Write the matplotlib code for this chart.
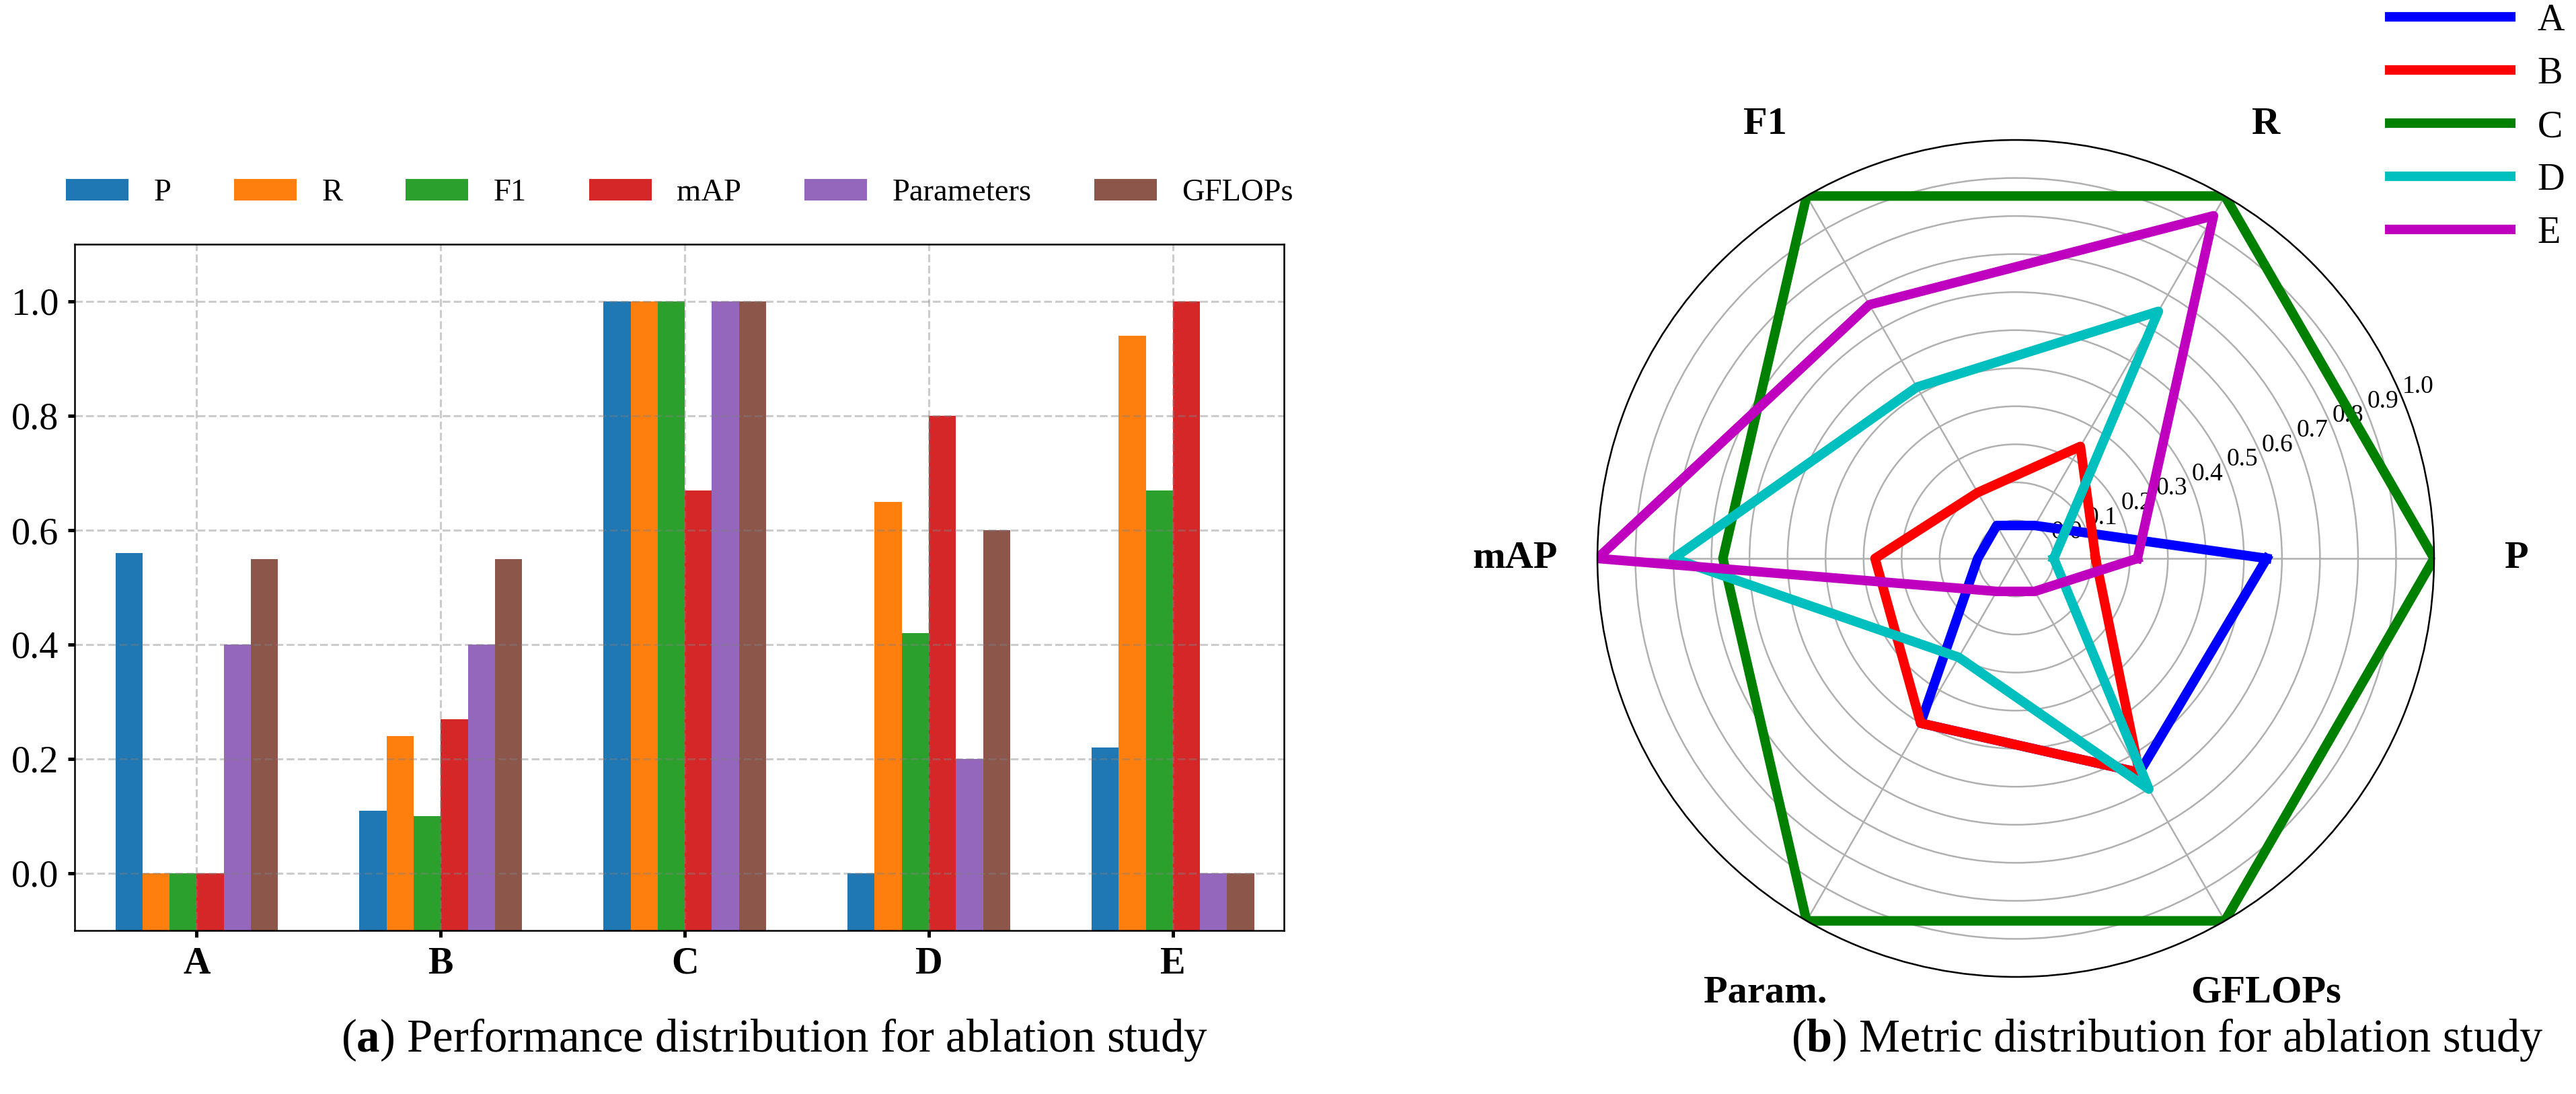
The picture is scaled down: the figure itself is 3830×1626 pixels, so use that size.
import numpy as np
import matplotlib
matplotlib.use("Agg")
import matplotlib.pyplot as plt

plt.rcParams['font.family'] = ['Liberation Serif', 'DejaVu Serif']
plt.rcParams['mathtext.fontset'] = 'custom'
plt.rcParams['mathtext.rm'] = 'Liberation Serif'
plt.rcParams['mathtext.bf'] = 'Liberation Serif:bold'

# ---------------- data ----------------
models = ['A', 'B', 'C', 'D', 'E']
metrics = ['P', 'R', 'F1', 'mAP', 'Parameters', 'GFLOPs']
radar_labels = ['P', 'R', 'F1', 'mAP', 'Param.', 'GFLOPs']

P_vals = [0.56, 0.11, 1.00, 0.00, 0.22]
R_vals = [0.00, 0.24, 1.00, 0.65, 0.94]
F1_vals = [0.00, 0.10, 1.00, 0.42, 0.67]
mAP_vals = [0.00, 0.27, 0.67, 0.80, 1.00]
Param_vals = [0.40, 0.40, 1.00, 0.20, 0.00]
GFLOPs_vals = [0.55, 0.55, 1.00, 0.60, 0.00]

bar_colors = ['#1f77b4', '#ff7f0e', '#2ca02c', '#d62728', '#9467bd', '#8c564b']
radar_colors = ['b', 'r', 'g', 'c', 'm']

y_ticks = [0.0, 0.2, 0.4, 0.6, 0.8, 1.0]
r_ticks = [0.0, 0.1, 0.2, 0.3, 0.4, 0.5, 0.6, 0.7, 0.8, 0.9, 1.0]

series = [P_vals, R_vals, F1_vals, mAP_vals, Param_vals, GFLOPs_vals]

W, H = 3830, 1626
fig = plt.figure(figsize=(W / 300, H / 300), dpi=300)

# ---------------- (a) grouped bars ----------------
ax1 = fig.add_axes([111 / W, 1 - 1383 / H, (1909 - 111) / W, (1383 - 363) / H])
x = np.arange(len(models))
bw = 0.111
base = -0.1
handles = []
for i, (name, vals) in enumerate(zip(metrics, series)):
    v = np.array(vals)
    b = ax1.bar(x + (i - 2.5) * bw, v - base, bw, bottom=base,
                color=bar_colors[i], label=name, zorder=1)
    handles.append(b)
ax1.set_xlim(-0.5, 4.455)
ax1.set_ylim(-0.1, 1.1)
ax1.set_xticks(x)
ax1.set_xticklabels(models, fontsize=13.5, fontweight='bold')
ax1.set_yticks(y_ticks)
ax1.set_yticklabels([f'{t:.1f}' for t in y_ticks], fontsize=13.5)
ax1.grid(True, ls='--', color='gray', alpha=0.4, lw=0.75, zorder=2)
for s in ax1.spines.values():
    s.set_linewidth(0.6)
ax1.tick_params(length=2.5, width=1.2, pad=3.2)

fig.legend(handles=handles, labels=metrics, loc='center left',
           bbox_to_anchor=(79 / W, 1 - 287 / H), ncol=6, fontsize=11.2,
           frameon=False, borderaxespad=0, columnspacing=2.0,
           handletextpad=0.8, handlelength=2.0)

# ---------------- (b) radar ----------------
cx, cy, rad = 2997, 830, 622
ax2 = fig.add_axes([(cx - rad) / W, 1 - (cy + rad) / H, 2 * rad / W, 2 * rad / H],
                   projection='polar')
angles = np.deg2rad(np.arange(0, 360, 60))
ang_closed = np.concatenate([angles, angles[:1]])
lines = []
for m, name in enumerate(models):
    vals = np.array([s[m] for s in series])
    vals_c = np.concatenate([vals, vals[:1]])
    ln, = ax2.plot(ang_closed, vals_c, color=radar_colors[m], lw=3.4, label=name)
    lines.append(ln)
ax2.set_ylim(-0.1, 1.0)
ax2.set_rticks(r_ticks)
ax2.set_yticklabels([f'{t:.1f}' for t in r_ticks], fontsize=9)
ax2.set_rlabel_position(22.5)
ax2.set_xticks(angles)
ax2.set_xticklabels(radar_labels, fontsize=14, fontweight='bold')
ax2.tick_params(axis='x', pad=19)
ax2.grid(True, color='#b0b0b0', lw=0.6)
ax2.spines['polar'].set_linewidth(0.6)

# radar legend: fit row spacing (79 px), first row centre (31 px from top),
# text right edge (3813 px)
fs_leg = 13.5
ls = 0.5
anchor = [3835 / W, 1 + 20 / H]
leg = None
for _ in range(3):
    if leg is not None:
        leg.remove()
    leg = fig.legend(handles=lines, labels=models, loc='upper right',
                     bbox_to_anchor=tuple(anchor), fontsize=fs_leg, frameon=False,
                     borderaxespad=0, handlelength=3.2, handletextpad=0.7,
                     labelspacing=ls)
    fig.canvas.draw()
    ext = [t.get_window_extent() for t in leg.get_texts()]
    cys = [(e.y0 + e.y1) / 2 for e in ext]
    spacing = np.mean(-np.diff(cys))
    ls += (79 - spacing) / (fs_leg * 300 / 72)
    top_c = H - cys[0]
    right = max(e.x1 for e in ext)
    anchor[1] += (top_c - 31) / H
    anchor[0] += (3813 - right) / W
leg.remove()
leg = fig.legend(handles=lines, labels=models, loc='upper right',
                 bbox_to_anchor=tuple(anchor), fontsize=fs_leg, frameon=False,
                 borderaxespad=0, handlelength=3.2, handletextpad=0.7,
                 labelspacing=ls)

# ---------------- captions ----------------
def fit_caption(text, xc, yc, target_w):
    t = fig.text(xc / W, 1 - yc / H, text, ha='center', va='center', fontsize=16)
    fig.canvas.draw()
    w = t.get_window_extent().width
    t.set_fontsize(16 * target_w / w)
    return t

fit_caption(r'($\mathbf{a}$) Performance distribution for ablation study', 1152, 1546, 1288)
fit_caption(r'($\mathbf{b}$) Metric distribution for ablation study', 3222, 1546, 1119)

fig.savefig('out.png', dpi=300)
